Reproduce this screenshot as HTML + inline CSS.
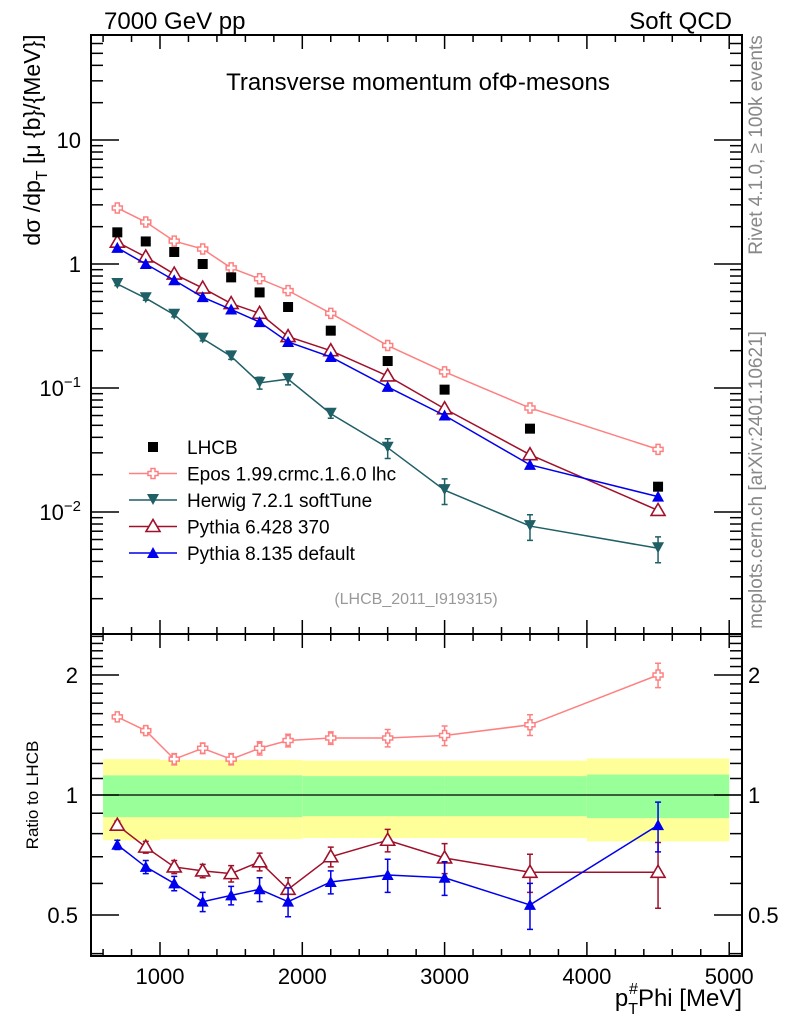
<!DOCTYPE html>
<html><head><meta charset="utf-8">
<style>
html,body{margin:0;padding:0;background:#fff;}
svg{display:block;font-family:"Liberation Sans",sans-serif;}
</style></head>
<body>
<svg id="chart" width="786" height="1024" viewBox="0 0 786 1024">
<text x="104" y="29" font-size="24">7000 GeV pp</text>
<text x="732" y="29" font-size="24" text-anchor="end">Soft QCD</text>
<text x="418" y="90" font-size="24" text-anchor="middle">Transverse momentum ofΦ-mesons</text>
<text transform="translate(40,140) rotate(-90)" font-size="23" text-anchor="middle">dσ /dp<tspan font-size="16" dy="7">T</tspan><tspan dy="-7"> [μ {b}/{MeV}]</tspan></text>
<text transform="translate(38,795) rotate(-90)" font-size="17" text-anchor="middle">Ratio to LHCB</text>
<text x="742" y="1006" font-size="24" text-anchor="end">p<tspan font-size="16" dy="8">T</tspan><tspan font-size="16" dx="-9" dy="-20">#</tspan><tspan dy="12">Phi [MeV]</tspan></text>
<text transform="translate(762,145) rotate(-90)" font-size="19" fill="#888" text-anchor="middle">Rivet 4.1.0, ≥ 100k events</text>
<text transform="translate(762,480) rotate(-90)" font-size="19" fill="#888" text-anchor="middle">mcplots.cern.ch [arXiv:2401.10621]</text>
<text x="416" y="604" font-size="16" fill="#999" text-anchor="middle">(LHCB_2011_I919315)</text>
<g id="g"></g>
</svg>
<script>
const xs = [700,900,1100,1300,1500,1700,1900,2200,2600,3000,3600,4500];
const lhcb = [1.8,1.52,1.25,1.0,0.78,0.59,0.45,0.29,0.165,0.097,0.047,0.016];
const epos = [2.83,2.18,1.53,1.32,0.93,0.76,0.61,0.40,0.22,0.135,0.069,0.032];
const herwig = [0.69,0.53,0.39,0.25,0.18,0.11,0.118,0.062,0.033,0.015,0.0077,0.0051];
const herwigErr = [0.02,0.02,0.015,0.01,0.01,0.012,0.012,0.005,0.006,0.0035,0.0018,0.0012];
const py6 = [1.50,1.14,0.83,0.64,0.48,0.40,0.26,0.20,0.125,0.068,0.029,0.0103];
const py8 = [1.35,1.0,0.74,0.54,0.43,0.34,0.235,0.178,0.102,0.06,0.024,0.0133];
const rEpos = [1.57,1.45,1.23,1.31,1.23,1.31,1.37,1.39,1.39,1.41,1.50,2.0];
const rEposErr = [0.02,0.03,0.04,0.04,0.04,0.05,0.05,0.05,0.07,0.08,0.09,0.14];
const rPy6 = [0.84,0.74,0.66,0.645,0.635,0.68,0.58,0.70,0.77,0.695,0.64,0.64];
const rPy6Err = [0.02,0.025,0.025,0.025,0.03,0.035,0.04,0.04,0.05,0.06,0.07,0.12];
const rPy8 = [0.75,0.66,0.60,0.54,0.56,0.58,0.54,0.605,0.63,0.62,0.53,0.84];
const rPy8Err = [0.02,0.025,0.025,0.03,0.03,0.04,0.045,0.04,0.06,0.06,0.07,0.12];
const bandEdges = [600,1000,2000,3000,4000,5000];
const bandYellow = [0.23,0.225,0.22,0.22,0.235];
const bandGreen = [0.12,0.12,0.115,0.115,0.125];
const xTicks = [1000,2000,3000,4000,5000];
const yTicks = [0.01,0.1,1,10];
const rTicks = [0.5,1,2];

const NS='http://www.w3.org/2000/svg';
const G=document.getElementById('g');
const L=91,R=742,T=35,M=634,B=956;
const X=v=>160+(v-1000)*0.1423;
const Y=v=>264-Math.log10(v)*124;
const RY=v=>795-Math.log2(v)*120;
function el(t,a,p){const e=document.createElementNS(NS,t);for(const k in a)e.setAttribute(k,a[k]);(p||G).appendChild(e);return e;}

for(let i=0;i<bandYellow.length;i++){
  const x0=X(bandEdges[i]),x1=X(bandEdges[i+1]);
  const y=el('rect',{x:x0,y:RY(1+bandYellow[i]),width:x1-x0,height:RY(1-bandYellow[i])-RY(1+bandYellow[i]),fill:'#ffff99'});
  
  
  const g=el('rect',{x:x0,y:RY(1+bandGreen[i]),width:x1-x0,height:RY(1-bandGreen[i])-RY(1+bandGreen[i]),fill:'#99ff99'});
  
  
}
el('line',{x1:L,x2:R,y1:RY(1),y2:RY(1),stroke:'#000','stroke-width':1.2});

el('rect',{x:L,y:T,width:R-L,height:M-T,fill:'none',stroke:'#000','stroke-width':2});
el('rect',{x:L,y:M,width:R-L,height:B-M,fill:'none',stroke:'#000','stroke-width':2});

for(let v=600;v<=5000;v+=200){
  const x=X(v),maj=v%1000===0,len=maj?14:7;
  [[T,1],[M,-1],[M,1],[B,-1]].forEach(([y,d])=>el('line',{x1:x,x2:x,y1:y,y2:y+d*len,stroke:'#000','stroke-width':1.5}));
}
xTicks.forEach(v=>{const t=el('text',{x:X(v),y:984,'font-size':22,'text-anchor':'middle'});t.textContent=v;

});
for(let e=-3;e<=1;e++)for(let k=1;k<10;k++){
  const v=k*Math.pow(10,e),y=Y(v);if(y<T||y>M)continue;
  const len=k===1?28:12;
  el('line',{x1:L,x2:L+len,y1:y,y2:y,stroke:'#000','stroke-width':1.5});
  el('line',{x1:R,x2:R-len,y1:y,y2:y,stroke:'#000','stroke-width':1.5});
}
yTicks.forEach(v=>{
  const t=el('text',{x:81,y:Y(v)+8,'font-size':22,'text-anchor':'end'});
  if(v>=1)t.textContent=v;else{t.textContent='10';const s=el('tspan',{'font-size':15,dy:-9},t);s.textContent=String(Math.round(Math.log10(v))).replace('-','−');}
  
  
});
[0.4,0.5,0.6,0.7,0.8,0.9,1,1.1,1.2,1.3,1.4,1.5,1.6,1.7,1.8,1.9,2,2.1,2.2,2.3,2.4,2.5].forEach(v=>{
  const y=RY(v);if(y<M||y>B)return;const len=(v===0.5||v===1||v===2)?28:12;
  el('line',{x1:L,x2:L+len,y1:y,y2:y,stroke:'#000','stroke-width':1.5});
  el('line',{x1:R,x2:R-len,y1:y,y2:y,stroke:'#000','stroke-width':1.5});
});
rTicks.forEach(v=>{
  const a=el('text',{x:78,y:RY(v)+8,'font-size':22,'text-anchor':'end'});a.textContent=v;
  
  
  const b=el('text',{x:748,y:RY(v)+8,'font-size':22});b.textContent=v;
  
  
});

function marker(type,x,y,c,par){
  if(type==='sq')return el('rect',{x:x-5,y:y-5,width:10,height:10,fill:c},par);
  if(type==='cross')return el('path',{d:`M${x-2},${y-5}h4v3h3v4h-3v3h-4v-3h-3v-4h3z`,fill:'#fff',stroke:c,'stroke-width':1.5},par);
  if(type==='down')return el('path',{d:`M${x-6},${y-6}h12l-6,11z`,fill:c},par);
  if(type==='up')return el('path',{d:`M${x-6},${y+5}h12l-6,-11z`,fill:c},par);
  if(type==='upo')return el('path',{d:`M${x-7},${y+5}h14l-7,-12z`,fill:'#fff',stroke:c,'stroke-width':1.6},par);
}
function series(name,vals,errs,yf,c,type,line){
  const g=el('g',{});
  
  
  if(line)el('polyline',{points:xs.map((x,i)=>X(x)+','+yf(vals[i])).join(' '),fill:'none',stroke:c,'stroke-width':1.5},g);
  xs.forEach((x,i)=>{
    if(errs){const y1=yf(vals[i]+errs[i]),y2=yf(Math.max(vals[i]-errs[i],1e-5));const cx=X(x);
      el('path',{d:`M${cx},${y1}V${y2}M${cx-3},${y1}h6M${cx-3},${y2}h6`,stroke:c,'stroke-width':1.5,fill:'none'},g);}
    const m=marker(type,X(x),yf(vals[i]),c,g);
    
    
  });
}
series('epos-series',epos,null,Y,'#ff8080','cross',true);
series('herwig-series',herwig,herwigErr,Y,'#1f5f66','down',true);
series('pythia6-series',py6,null,Y,'#a0102a','upo',true);
series('pythia8-series',py8,null,Y,'#0000ee','up',true);
series('lhcb-data',lhcb,null,Y,'#000','sq',false);
series('epos-ratio',rEpos,rEposErr,RY,'#ff8080','cross',true);
series('pythia6-ratio',rPy6,rPy6Err,RY,'#a0102a','upo',true);
series('pythia8-ratio',rPy8,rPy8Err,RY,'#0000ee','up',true);

const leg=[['LHCB','#000','sq',false],['Epos 1.99.crmc.1.6.0 lhc','#ff8080','cross',true],['Herwig 7.2.1 softTune','#1f5f66','down',true],['Pythia 6.428 370','#a0102a','upo',true],['Pythia 8.135 default','#0000ee','up',true]];
leg.forEach((l,i)=>{
  const y=447+i*26.5;
  const g=el('g',{});
  
  
  if(l[3])el('line',{x1:129,x2:177,y1:y,y2:y,stroke:l[1],'stroke-width':1.5},g);
  marker(l[2],153,y,l[1],g);
  const t=el('text',{x:187,y:y+7,'font-size':19},g);t.textContent=l[0];
});
</script>
</body></html>
